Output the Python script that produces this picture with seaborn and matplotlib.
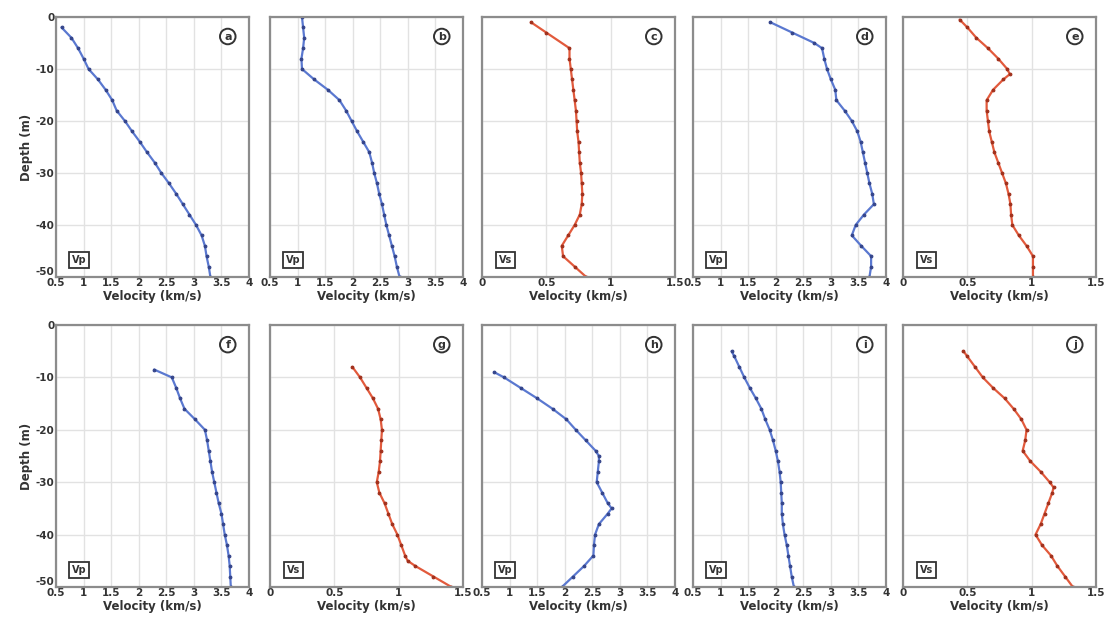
import numpy as np
import pandas as pd
import seaborn as sns
import matplotlib.pyplot as plt

# depth (m) and velocity (km/s)
depth_a = [-2, -4, -6, -8, -10, -12, -14, -16, -18, -20, -22, -24, -26, -28, -30, -32, -34, -36, -38, -40, -42, -44, -46, -48, -50]
vel_a = [0.6, 0.78, 0.9, 1.0, 1.09, 1.26, 1.4, 1.52, 1.6, 1.75, 1.88, 2.02, 2.15, 2.29, 2.41, 2.55, 2.68, 2.8, 2.92, 3.04, 3.14, 3.2, 3.23, 3.27, 3.3]

depth_b = [0, -2, -4, -6, -8, -10, -12, -14, -16, -18, -20, -22, -24, -26, -28, -30, -32, -34, -36, -38, -40, -42, -44, -46, -48, -50]
vel_b = [1.08, 1.1, 1.12, 1.1, 1.07, 1.08, 1.3, 1.55, 1.76, 1.88, 1.98, 2.08, 2.19, 2.3, 2.35, 2.39, 2.44, 2.48, 2.53, 2.57, 2.61, 2.66, 2.71, 2.76, 2.8, 2.85]

depth_c = [-1, -3, -6, -8, -10, -12, -14, -16, -18, -20, -22, -24, -26, -28, -30, -32, -34, -36, -38, -40, -42, -44, -46, -48, -50]
vel_c = [0.38, 0.5, 0.68, 0.68, 0.69, 0.7, 0.71, 0.72, 0.73, 0.735, 0.74, 0.75, 0.755, 0.76, 0.77, 0.775, 0.78, 0.775, 0.76, 0.72, 0.67, 0.62, 0.63, 0.72, 0.81]

depth_d = [-1, -3, -5, -6, -8, -10, -12, -14, -16, -18, -20, -22, -24, -26, -28, -30, -32, -34, -36, -38, -40, -42, -44, -46, -48, -50]
vel_d = [1.9, 2.3, 2.7, 2.84, 2.88, 2.93, 3.0, 3.08, 3.1, 3.25, 3.38, 3.48, 3.54, 3.58, 3.62, 3.66, 3.7, 3.75, 3.78, 3.6, 3.45, 3.38, 3.55, 3.73, 3.73, 3.7]

depth_e = [-0.5, -2, -4, -6, -8, -10, -11, -12, -14, -16, -18, -20, -22, -24, -26, -28, -30, -32, -34, -36, -38, -40, -42, -44, -46, -48, -50]
vel_e = [0.44, 0.5, 0.57, 0.66, 0.74, 0.81, 0.83, 0.78, 0.7, 0.65, 0.65, 0.66, 0.67, 0.69, 0.71, 0.74, 0.77, 0.8, 0.82, 0.835, 0.84, 0.85, 0.9, 0.96, 1.01, 1.01, 1.01]

depth_f = [-8.5, -10, -12, -14, -16, -18, -20, -22, -24, -26, -28, -30, -32, -34, -36, -38, -40, -42, -44, -46, -48, -50]
vel_f = [2.28, 2.6, 2.68, 2.75, 2.83, 3.02, 3.2, 3.24, 3.27, 3.3, 3.33, 3.37, 3.41, 3.45, 3.5, 3.53, 3.56, 3.6, 3.63, 3.65, 3.66, 3.67]

depth_g = [-8, -10, -12, -14, -16, -18, -20, -22, -24, -26, -28, -30, -32, -34, -36, -38, -40, -42, -44, -45, -46, -48, -50]
vel_g = [0.64, 0.7, 0.75, 0.8, 0.84, 0.86, 0.87, 0.865, 0.86, 0.855, 0.845, 0.83, 0.85, 0.89, 0.92, 0.95, 0.99, 1.02, 1.05, 1.07, 1.13, 1.27, 1.41]

depth_h = [-9, -10, -12, -14, -16, -18, -20, -22, -24, -25, -26, -28, -30, -32, -34, -35, -36, -38, -40, -42, -44, -46, -48, -50]
vel_h = [0.72, 0.9, 1.2, 1.5, 1.78, 2.03, 2.2, 2.38, 2.56, 2.62, 2.62, 2.6, 2.58, 2.68, 2.78, 2.85, 2.78, 2.62, 2.55, 2.53, 2.52, 2.35, 2.15, 1.95]

depth_i = [-5, -6, -8, -10, -12, -14, -16, -18, -20, -22, -24, -26, -28, -30, -32, -34, -36, -38, -40, -42, -44, -46, -48, -50]
vel_i = [1.2, 1.25, 1.34, 1.43, 1.53, 1.64, 1.74, 1.81, 1.89, 1.95, 2.0, 2.04, 2.07, 2.09, 2.1, 2.11, 2.11, 2.13, 2.16, 2.2, 2.23, 2.26, 2.29, 2.33]

depth_j = [-5, -6, -8, -10, -12, -14, -16, -18, -20, -22, -24, -26, -28, -30, -31, -32, -34, -36, -38, -40, -42, -44, -46, -48, -50]
vel_j = [0.47, 0.5, 0.56, 0.62, 0.7, 0.79, 0.86, 0.92, 0.96, 0.95, 0.93, 0.99, 1.07, 1.14, 1.17, 1.16, 1.13, 1.1, 1.07, 1.03, 1.08, 1.15, 1.2, 1.26, 1.32]

letters = ['a', 'b', 'c', 'd', 'e', 'f', 'g', 'h', 'i', 'j']
wave = ['Vp', 'Vp', 'Vs', 'Vp', 'Vs', 'Vp', 'Vs', 'Vp', 'Vp', 'Vs']
depths = [depth_a, depth_b, depth_c, depth_d, depth_e, depth_f, depth_g, depth_h, depth_i, depth_j]
vels = [vel_a, vel_b, vel_c, vel_d, vel_e, vel_f, vel_g, vel_h, vel_i, vel_j]

vp_ticks = [0.5, 1, 1.5, 2, 2.5, 3, 3.5, 4]
vs_ticks = [0, 0.5, 1, 1.5]
depth_ticks = [0, -10, -20, -30, -40, -50]

sns.set_theme(style="whitegrid")
plt.rcParams['font.family'] = ['DejaVu Sans']
plt.rcParams['font.weight'] = 'bold'

fig = plt.figure(figsize=(11.06, 6.23), dpi=100)
W, H = 1106, 623
lefts = [56, 270, 482, 693, 903]
rows = [(17, 277), (325, 587)]

colors = {'Vp': '#5a78d0', 'Vs': '#e25a3c'}
edge = {'Vp': '#34448a', 'Vs': '#a0301c'}

for k in range(10):
    r, c = divmod(k, 5)
    top, bot = rows[r]
    ax = fig.add_axes([lefts[c] / W, (H - bot) / H, 193 / W, (bot - top) / H])
    df = pd.DataFrame({'v': vels[k], 'd': depths[k]})
    w = wave[k]
    sns.lineplot(data=df, x='v', y='d', sort=False, estimator=None, ax=ax,
                 color=colors[w], lw=1.6, marker='.', markersize=4,
                 markeredgecolor=edge[w], markerfacecolor=edge[w])
    if w == 'Vp':
        ax.set_xlim(0.5, 4)
        ax.set_xticks(vp_ticks)
        ax.set_xticklabels(['0.5', '1', '1.5', '2', '2.5', '3', '3.5', '4'])
    else:
        ax.set_xlim(0, 1.5)
        ax.set_xticks(vs_ticks)
        ax.set_xticklabels(['0', '0.5', '1', '1.5'])
    ax.set_ylim(-50, 0)
    ax.set_yticks(depth_ticks)
    ax.grid(True, color='#e2e2e2', lw=1.0)
    for s in ax.spines.values():
        s.set_color('#8c8c8c')
        s.set_linewidth(1.6)
    ax.tick_params(length=0, pad=1, labelsize=7.5, labelcolor='#333333')
    ax.set_xlabel('Velocity (km/s)', fontsize=8.5, fontweight='bold', color='#333333', labelpad=1)
    if c == 0:
        ax.set_yticklabels([str(t) for t in depth_ticks])
        # lift the bottom depth label so it clears the first velocity label
        ax.get_yticklabels()[-1].set_va('bottom')
        ax.set_ylabel('Depth (m)', fontsize=8.5, fontweight='bold', color='#333333', labelpad=2)
    else:
        ax.set_yticklabels([])
        ax.set_ylabel('')
    ax.text(0.89, 0.925, letters[k], transform=ax.transAxes, ha='center', va='center',
            fontsize=8, fontweight='bold', color='#333333',
            bbox=dict(boxstyle='circle,pad=0.25', fc='white', ec='#333333', lw=1.4))
    ax.text(0.12, 0.065, w, transform=ax.transAxes, ha='center', va='center',
            fontsize=7, fontweight='bold', color='#333333',
            bbox=dict(boxstyle='square,pad=0.3', fc='white', ec='#333333', lw=1.3))

fig.savefig('out.png', dpi=100, facecolor='white')
